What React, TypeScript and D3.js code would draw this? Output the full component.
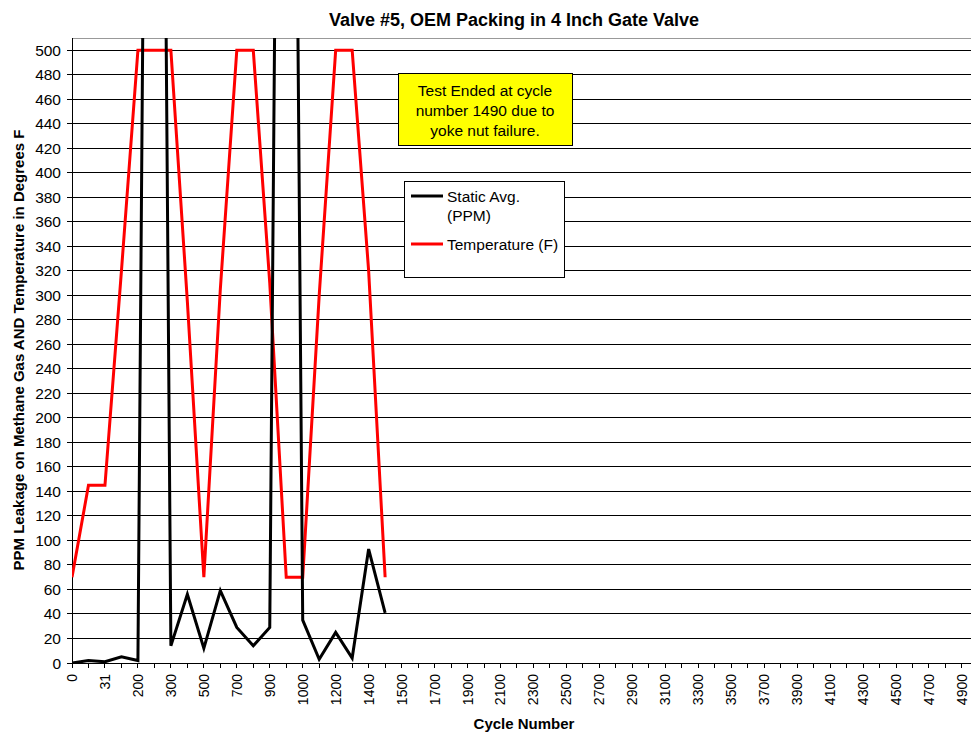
import React from "react";
import * as d3 from "d3";

// cycle categories (Excel category axis, evenly spaced)
const cycles = [
  "0", "10", "31", "100", "200", "250", "300", "400", "500", "600", "700", "800",
  "900", "950", "1000", "1100", "1200", "1300", "1400", "1490", "1500", "1600",
  "1700", "1800", "1900", "2000", "2100", "2200", "2300", "2400", "2500", "2600",
  "2700", "2800", "2900", "3000", "3100", "3200", "3300", "3400", "3500", "3600",
  "3700", "3800", "3900", "4000", "4100", "4200", "4300", "4400", "4500", "4600",
  "4700", "4800", "4900", "5000",
];

const staticAvg = [
  0, 2, 1, 5, 2, 1750, 14, 56, 12, 59, 29, 14, 29, 1680, 35, 3, 25, 4, 93, 41,
];

const temperature = [
  70, 145, 145, 320, 500, 500, 500, 295, 70, 305, 500, 500, 310, 70, 70, 300, 500,
  500, 320, 70,
];

const yTicks = d3.range(0, 501, 20);
const noteLines = ["Test Ended at cycle", "number 1490 due to", "yoke nut failure."];

const W = 971;
const H = 736;
const margin = { left: 72, top: 38, bottom: 663 };
const font = "Arial, 'Liberation Sans', sans-serif";

export default function App() {
  const x = d3
    .scalePoint<string>()
    .domain(cycles)
    .range([margin.left, margin.left + 55 * 16.48]);
  const y = d3.scaleLinear().domain([0, 510]).range([margin.bottom, margin.top]);

  const line = d3
    .line<number>()
    .x((_, i) => x(cycles[i]) as number)
    .y((d) => y(d));

  return (
    <svg
      width={W}
      height={H}
      style={{ position: "absolute", left: 0, top: 0, background: "#fff" }}
      fontFamily={font}
    >
      <defs>
        <clipPath id="plot">
          <rect x={margin.left} y={margin.top} width={W - margin.left} height={margin.bottom - margin.top} />
        </clipPath>
      </defs>

      {/* title */}
      <text x={514} y={26} textAnchor="middle" fontSize={18} fontWeight="bold">
        Valve #5, OEM Packing in 4 Inch Gate Valve
      </text>

      {/* plot border top */}
      <line x1={margin.left} x2={W} y1={margin.top} y2={margin.top} stroke="#999" shapeRendering="crispEdges" />

      {/* gridlines */}
      {yTicks.slice(1).map((t) => (
        <line key={t} x1={margin.left} x2={W} y1={y(t)} y2={y(t)} stroke="#000" shapeRendering="crispEdges" />
      ))}

      {/* y axis */}
      <line x1={margin.left} x2={margin.left} y1={margin.top} y2={margin.bottom} stroke="#000" shapeRendering="crispEdges" />
      {yTicks.map((t) => (
        <g key={t}>
          <line x1={margin.left - 5} x2={margin.left} y1={y(t)} y2={y(t)} stroke="#000" shapeRendering="crispEdges" />
          <text x={61} y={y(t) + 5.5} textAnchor="end" fontSize={15.5}>
            {t}
          </text>
        </g>
      ))}

      {/* x axis */}
      <line x1={margin.left} x2={W} y1={margin.bottom} y2={margin.bottom} stroke="#000" shapeRendering="crispEdges" />
      {cycles.map((c, i) => (
        <g key={c}>
          <line
            x1={x(c)}
            x2={x(c)}
            y1={margin.bottom}
            y2={margin.bottom + 5}
            stroke="#000"
            shapeRendering="crispEdges"
          />
          {i % 2 === 0 && (
            <text
              transform={`translate(${(x(c) as number) + 5},${margin.bottom + 11}) rotate(-90)`}
              textAnchor="end"
              fontSize={14}
            >
              {c}
            </text>
          )}
        </g>
      ))}

      {/* series */}
      <g clipPath="url(#plot)">
        <path d={line(temperature) ?? ""} fill="none" stroke="#ff0000" strokeWidth={3} strokeLinejoin="miter" />
        <path d={line(staticAvg) ?? ""} fill="none" stroke="#000" strokeWidth={3} strokeLinejoin="miter" />
      </g>

      {/* axis titles */}
      <text
        transform={`translate(23.5,350) rotate(-90)`}
        textAnchor="middle"
        fontSize={15}
        fontWeight="bold"
      >
        PPM Leakage on Methane Gas AND Temperature in Degrees F
      </text>
      <text x={524} y={729} textAnchor="middle" fontSize={15} fontWeight="bold">
        Cycle Number
      </text>

      {/* note box */}
      <rect x={398.5} y={73.5} width={174} height={72} fill="#ffff00" stroke="#000" />
      {noteLines.map((l, i) => (
        <text key={l} x={485} y={95.5 + i * 20} textAnchor="middle" fontSize={15.5}>
          {l}
        </text>
      ))}

      {/* legend */}
      <rect x={404.5} y={181.5} width={160} height={96} fill="#fff" stroke="#000" />
      <line x1={411} x2={443} y1={196} y2={196} stroke="#000" strokeWidth={3} />
      <text x={447} y={201.5} fontSize={15.5}>
        Static Avg.
      </text>
      <text x={447} y={220.5} fontSize={15.5}>
        (PPM)
      </text>
      <line x1={411} x2={443} y1={244} y2={244} stroke="#ff0000" strokeWidth={3} />
      <text x={447} y={249.5} fontSize={15.5}>
        Temperature (F)
      </text>
    </svg>
  );
}
